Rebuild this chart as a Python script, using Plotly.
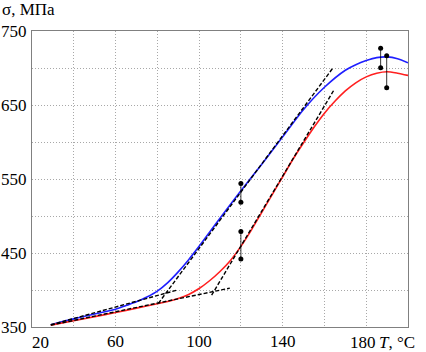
import plotly.graph_objects as go

# Blue curve
blue_T = [29, 40, 50, 60, 65, 70, 75, 80, 85, 90, 95, 100, 105, 110, 120, 130, 140, 150, 160, 170, 175, 180, 185, 190, 195, 200]
blue_s = [353, 361, 367.5, 374, 379, 384, 390.5, 398.5, 410, 424.5, 441, 459, 478, 497, 534, 570, 607, 644, 674, 697, 704.5, 710, 714, 715, 712.5, 707]

# Red curve
red_T = [29, 40, 50, 60, 70, 80, 85, 90, 95, 100, 105, 110, 115, 120, 125, 130, 135, 140, 145, 150, 155, 160, 165, 170, 175, 180, 185, 190, 195, 200]
red_s = [352.5, 358.5, 364, 369.5, 375.5, 381.5, 384.5, 388.5, 394, 402, 412.5, 425, 440, 459, 481, 505, 529, 553, 577, 599, 620, 639, 655, 669, 680, 688, 693, 695, 693, 690]

# Tangent (dashed) lines: pairs of end points
tan_blue_low_T = [29, 89]
tan_blue_low_s = [353, 399.5]
tan_blue_steep_T = [80.5, 164.3]
tan_blue_steep_s = [382, 701]
tan_red_low_T = [29, 114.7]
tan_red_low_s = [352.5, 402.5]
tan_red_steep_T = [106, 164.5]
tan_red_steep_s = [393, 670]

# Error bars (T, low, high)
err_T = [120, 120, 186.9, 189.8]
err_lo = [518.5, 442, 700.4, 673.4]
err_hi = [544, 479, 726.6, 716.6]

x_ticks = [20, 40, 60, 80, 100, 120, 140, 160, 180, 200]
x_ticktext = ["", "", "60", "", "100", "", "140", "", "", ""]
x_moved_labels = [(20, "20", 8), (180, "180", -3)]
y_ticks = [350, 400, 450, 500, 550, 600, 650, 700, 750]
y_ticktext = ["350", "", "450", "", "550", "", "650", "", "750"]

FONT = "Liberation Serif, Times New Roman, serif"
FS = 17

fig = go.Figure()

for T, s, c in [(blue_T, blue_s, "#1f1fff"), (red_T, red_s, "#ff1f1f")]:
    fig.add_trace(go.Scatter(x=T, y=s, mode="lines", line=dict(color=c, width=1.6, shape="spline", smoothing=0.7),
                             showlegend=False, hoverinfo="skip"))

for T, s in [(tan_blue_low_T, tan_blue_low_s), (tan_blue_steep_T, tan_blue_steep_s),
             (tan_red_low_T, tan_red_low_s), (tan_red_steep_T, tan_red_steep_s)]:
    fig.add_trace(go.Scatter(x=T, y=s, mode="lines", line=dict(color="black", width=1.4, dash="4px,2px"),
                             showlegend=False, hoverinfo="skip"))

for T, lo, hi in zip(err_T, err_lo, err_hi):
    fig.add_trace(go.Scatter(x=[T, T], y=[lo, hi], mode="lines+markers",
                             line=dict(color="black", width=0.8),
                             marker=dict(color="black", size=5),
                             showlegend=False, hoverinfo="skip"))

annotations = [
    dict(text="σ, МПа", xref="paper", yref="paper", x=-32/376, y=(327-10)/296,
         xanchor="left", yanchor="middle", showarrow=False, font=dict(size=FS)),
    dict(text="<i>T</i>, °C", xref="paper", yref="paper", x=(377-32)/376, y=(327-343)/296,
         xanchor="left", yanchor="middle", showarrow=False, font=dict(size=FS)),
]
for xv, txt, sh in x_moved_labels:
    annotations.append(dict(text=txt, xref="x", yref="paper", x=xv, y=(327-343)/296, xshift=sh,
                            xanchor="center", yanchor="middle", showarrow=False, font=dict(size=FS)))

fig.update_layout(
    width=426, height=352,
    margin=dict(l=32, r=18, t=31, b=25, autoexpand=False),
    paper_bgcolor="white", plot_bgcolor="white",
    font=dict(family=FONT, size=FS, color="black"),
    xaxis=dict(range=[20, 200], tickvals=x_ticks, ticktext=x_ticktext, automargin=False,
               showgrid=True, gridcolor="#a8a8a8", griddash="1px,2px", gridwidth=1,
               showline=True, linecolor="#808080", linewidth=1, mirror=True,
               ticks="", zeroline=False, tickfont=dict(size=FS), ticklabelstandoff=-1),
    yaxis=dict(range=[350, 750], tickvals=y_ticks, ticktext=y_ticktext, automargin=False,
               showgrid=True, gridcolor="#a8a8a8", griddash="1px,2px", gridwidth=1,
               showline=True, linecolor="#808080", linewidth=1, mirror=True,
               ticks="", zeroline=False, tickfont=dict(size=FS), ticklabelstandoff=1),
    annotations=annotations,
)

fig.write_html("out.html", config={"displayModeBar": False},
               post_script="document.body.style.margin='0';document.body.style.overflow='hidden';")
